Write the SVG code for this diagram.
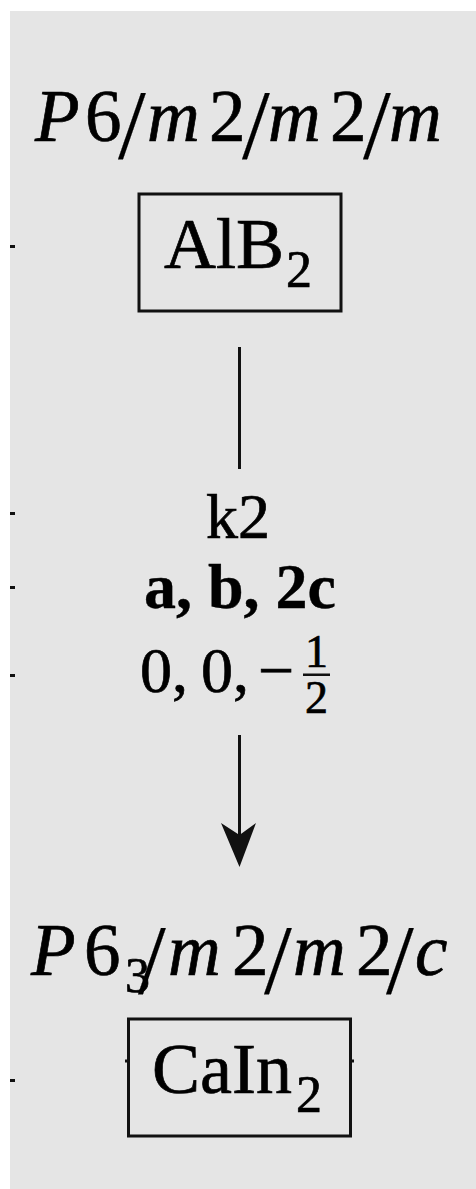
<svg xmlns="http://www.w3.org/2000/svg" width="476" height="1189" viewBox="0 0 476 1189">
<style>
.t{font-family:"Liberation Serif","Times New Roman",serif;fill:#000;stroke:#000;stroke-width:0.7}
.i{font-style:italic}
.b{font-weight:bold;stroke-width:0.4}
.sl{font-size:100px;stroke-width:0.2}
.box{fill:none;stroke:#111;stroke-width:3}
.ln{stroke:#111;stroke-width:3;fill:none}
.dot{fill:#111}
</style>
<rect x="0" y="0" width="476" height="1189" fill="#ffffff"/>
<rect x="10" y="11" width="466" height="1178" fill="#e5e5e5"/>
<g id="margin-marks">
<rect class="dot" x="10" y="245" width="5" height="3"/>
<rect class="dot" x="10" y="512" width="5" height="3"/>
<rect class="dot" x="10" y="586" width="5" height="3"/>
<rect class="dot" x="10" y="674" width="5" height="3"/>
<rect class="dot" x="10" y="1079" width="5" height="3"/>
</g>
<g id="node-alb2">
<text class="t" font-size="73" y="141"><tspan class="i" x="35">P</tspan><tspan x="85">6</tspan><tspan class="i" x="147">m</tspan><tspan x="209">2</tspan><tspan class="i" x="268">m</tspan><tspan x="330">2</tspan><tspan class="i" x="389">m</tspan></text>
<text class="t sl" y="158"><tspan x="118">/</tspan><tspan x="242">/</tspan><tspan x="363">/</tspan></text>
<rect class="box" x="139" y="194" width="202" height="117"/>
<text class="t" font-size="72" x="164" y="268">AlB</text>
<text class="t" font-size="52" x="286" y="287">2</text>
</g>
<g id="connectors">
<line class="ln" x1="239.5" y1="347" x2="239.5" y2="469"/>
<line class="ln" x1="239.5" y1="735" x2="239.5" y2="840"/>
<path d="M221,823 L239.5,867 L256,823 L239.5,835 Z" fill="#111"/>
</g>
<g id="edge-label">
<text class="t" font-size="64" x="238" y="538" text-anchor="middle">k2</text>
<text class="t b" font-size="64" x="240" y="608" text-anchor="middle">a, b, 2c</text>
<text class="t" font-size="64" y="692"><tspan x="140">0,</tspan><tspan x="201">0,</tspan><tspan x="258">−</tspan></text>
<text class="t" font-size="46" x="316.5" y="667" text-anchor="middle">1</text>
<rect x="303" y="673.5" width="27" height="2.5" fill="#111"/>
<text class="t" font-size="46" x="316.5" y="713" text-anchor="middle">2</text>
</g>
<g id="node-cain2">
<text class="t" font-size="73" y="975"><tspan class="i" x="31">P</tspan><tspan x="84">6</tspan></text>
<text class="t" font-size="50" x="125" y="992">3</text>
<text class="t" font-size="73" y="975"><tspan class="i" x="168">m</tspan><tspan x="232">2</tspan><tspan class="i" x="293">m</tspan><tspan x="356">2</tspan><tspan class="i" x="415">c</tspan></text>
<text class="t sl" y="993"><tspan x="138">/</tspan><tspan x="264">/</tspan><tspan x="386">/</tspan></text>
<rect class="box" x="128.5" y="1019" width="222" height="117"/>
<line class="ln" x1="125" y1="1061" x2="128" y2="1061" stroke-width="1.5"/>
<line class="ln" x1="351" y1="1061" x2="354" y2="1061" stroke-width="1.5"/>
<text class="t" font-size="72" x="152" y="1093">CaIn</text>
<text class="t" font-size="52" x="296" y="1112">2</text>
</g>
</svg>
